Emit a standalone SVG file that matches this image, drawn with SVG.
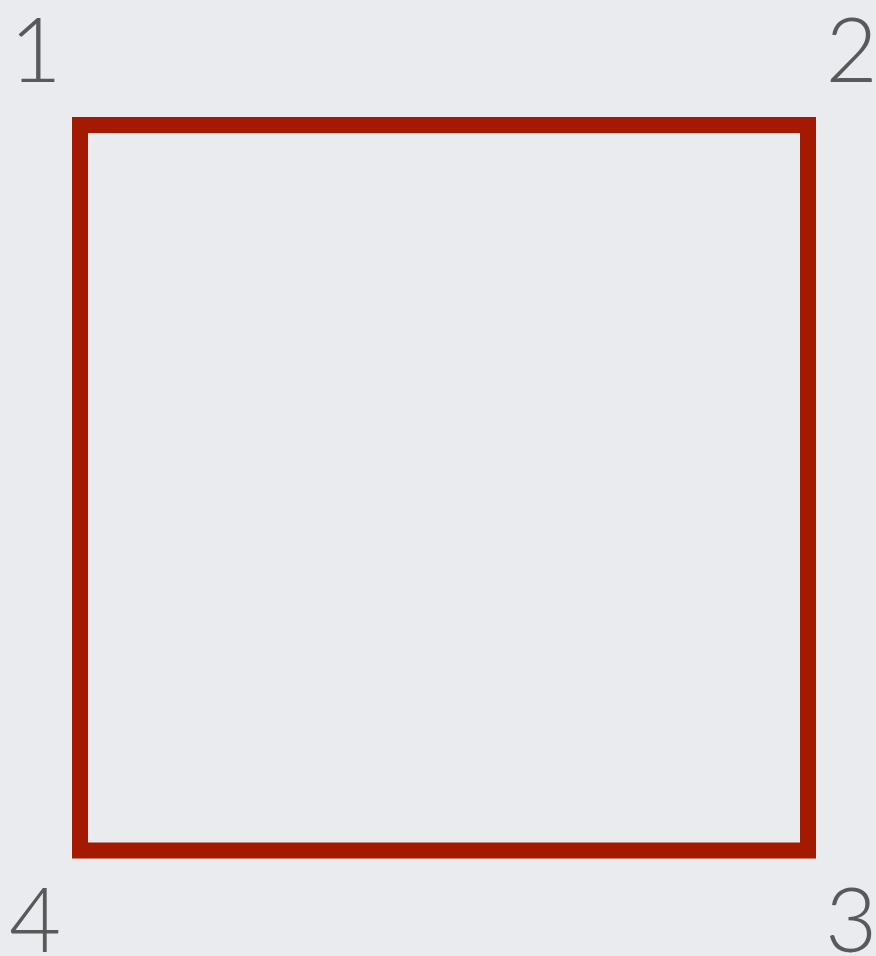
<svg xmlns="http://www.w3.org/2000/svg" width="876" height="956" viewBox="0 0 876 956">
<style>
.lbl{font-family:Lato,"Open Sans","Liberation Sans",sans-serif;font-weight:300;font-size:90px;fill:#58595b;text-anchor:middle}
</style>
<rect x="0" y="0" width="876" height="956" fill="#e9ebef"/>
<g id="square"><rect x="80" y="125" width="728" height="725.5" fill="none" stroke="#a31a00" stroke-width="16"/></g>
<g id="connectors"/>
<g id="label1"><text class="lbl" x="35.5" y="81.5">1</text></g>
<g id="label2"><text class="lbl" x="851.5" y="81.5">2</text></g>
<g id="label3"><text class="lbl" x="851" y="951.5">3</text></g>
<g id="label4"><text class="lbl" x="35" y="951.5">4</text></g>
</svg>
